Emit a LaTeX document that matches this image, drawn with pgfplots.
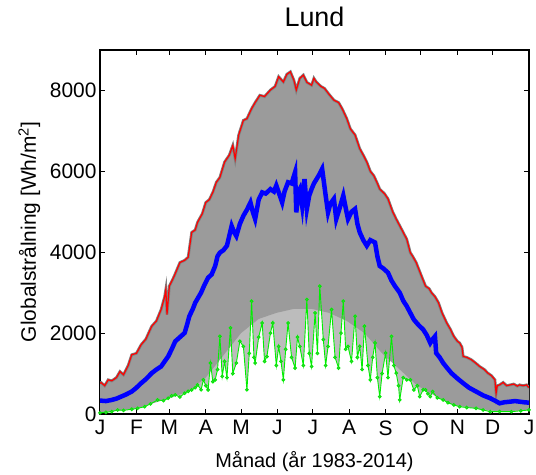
\documentclass[border=0pt]{standalone}
\usepackage{fontspec}
\setmainfont{Liberation Sans}
\usepackage{pgfplots}
\usepackage{pgfplotstable}
\pgfplotsset{compat=1.18}
\usepgfplotslibrary{fillbetween}
\definecolor{dotgray}{RGB}{128,128,128}
\definecolor{lightfill}{RGB}{188,188,188}
\definecolor{densefill}{RGB}{155,155,155}
\definecolor{mxred}{RGB}{255,0,0}
\definecolor{mnblue}{RGB}{0,0,255}
\definecolor{mingreen}{RGB}{0,240,0}

\pgfplotstableread{
d v
0 760
1 777
4 700
7 845
10 820
14 900
17 1050
20 970
24 1200
27 1465
31 1500
35 1714
39 1850
44 2170
48 2300
52 2583
55 2900
56 3080
57 2460
59 3160
63 3400
68 3745
72 3800
75 3875
78 4490
81 4550
83 4740
87 4950
90 5230
93 5300
96 5480
99 5730
102 5850
106 6230
110 6400
113 6640
115 6310
118 6900
122 7260
125 7300
129 7550
132 7700
136 7880
140 7850
145 8010
149 8100
152 8340
156 8210
159 8400
162 8460
165 8250
167 8010
170 8300
173 8380
176 8200
180 8130
182 8300
184 8210
188 8100
191 8050
195 7900
199 7760
203 7700
206 7550
210 7300
213 7050
217 6900
221 6560
224 6400
227 6230
230 6000
233 5890
236 5700
238 5560
242 5450
245 5320
249 5000
252 4820
256 4600
261 4320
264 3990
266 3900
269 3745
273 3450
277 3160
280 3100
282 3000
285 2900
288 2750
291 2500
295 2250
298 2100
301 1920
304 1800
306 1756
308 1650
309 1423
312 1400
316 1341
320 1250
323 1175
327 1100
330 1010
333 950
336 845
337 514
338 700
340 720
343 780
346 700
349 720
352 740
355 690
357 720
360 700
363 720
365 650
}\maxdata

\pgfplotstableread{
d v
0 330
1 330
5 320
10 348
14 380
18 430
22 480
27 555
31 650
35 762
39 860
44 1010
48 1100
52 1175
55 1300
58 1423
61 1600
64 1796
68 1900
72 2004
74 2200
76 2417
79 2600
81 2750
84 2900
86 3000
89 3200
92 3370
95 3450
98 3660
100 3900
102 3990
105 4050
108 4160
112 4650
114 4500
116 4400
119 4700
122 4900
125 5050
128 5230
130 5000
132 4820
135 5300
138 5480
141 5450
145 5560
148 5500
150 5650
153 5400
155 5230
157 5500
160 5730
163 5700
166 5980
167 4985
169 5500
170 5560
172 5150
174 5810
176 5070
178 5400
180 5560
182 5700
186 5890
189 6060
192 5400
194 4985
196 5200
199 5320
201 4820
204 5100
207 5400
209 5100
211 4820
214 5000
217 5070
219 4700
221 4490
224 4300
227 4160
230 4300
234 4240
236 3900
238 3660
241 3600
245 3495
248 3300
251 3160
255 3000
258 2800
261 2665
264 2500
267 2335
271 2200
275 2087
278 1950
281 1756
283 1850
285 1920
286 1508
289 1400
292 1260
295 1150
299 1010
304 880
309 762
314 650
320 555
326 460
332 390
336 330
340 265
344 290
349 305
353 320
357 305
361 290
365 280
}\meandata

\pgfplotstableread{
d v
0 30
5 40
10 60
15 100
20 90
27 117
32 140
38 181
43 250
49 348
54 330
58 390
61 450
64 472
68 420
72 514
75 560
78 596
81 650
83 720
86 600
88 845
90 700
92 596
94 1260
96 800
98 845
100 1100
102 1920
104 930
106 1300
108 900
111 2130
113 1000
116 1260
119 1800
122 1670
125 600
127 1500
129 2790
131 1400
132 1260
135 1900
138 2250
140 1300
142 1420
145 2000
147 2250
150 1200
152 1670
154 1300
156 845
158 1600
160 2250
163 1400
166 1135
168 1900
170 1670
173 1200
176 2830
178 1500
180 1175
183 2500
185 1500
187 3160
190 1840
192 1200
194 1670
197 2583
200 1400
203 1135
205 2000
207 2790
209 1600
211 1670
214 1300
217 2417
219 1400
221 1670
223 1100
225 2170
228 1200
230 845
232 1400
234 1756
236 900
238 430
240 1000
243 1508
245 900
248 1920
250 1200
252 1010
254 700
255 348
258 900
261 845
264 845
267 596
270 700
272 430
275 600
277 596
279 500
281 430
283 555
287 400
292 348
296 280
301 224
306 181
312 160
320 140
326 100
332 57
340 60
350 57
358 80
365 100
}\mindata

\pgfplotstableread{
d v
0 30
31 140
59 390
75 560
90 900
105 1450
120 2000
135 2350
150 2500
165 2600
180 2600
195 2500
210 2300
225 2000
240 1500
255 1100
270 700
285 450
300 230
320 140
340 60
365 100
}\densedata

\begin{document}
\begin{tikzpicture}
\begin{axis}[
  at={(0,0)}, anchor=south west,
  width=429bp, height=364bp, scale only axis,
  xmin=0, xmax=365, ymin=0, ymax=9000,
  xtick={0,31,59,90,120,151,181,212,243,273,304,334,365},
  xticklabels={J,F,M,A,M,J,J,A,S,O,N,D,J},
  ytick={0,2000,4000,6000,8000},
  scaled y ticks=false,
  /pgf/number format/1000 sep={},
  /pgf/number format/assume math mode=true,
  tick align=inside,
  xtick pos=both, ytick pos=both,
  xticklabel pos=lower, yticklabel pos=left,
  major tick length=5bp,
  axis line style={line width=1.3bp, black},
  tick style={line width=0.9bp, black},
  tick label style={font=\fontsize{21}{25}\selectfont},
  xticklabel style={yshift=-3bp},
  title={Lund},
  title style={font=\fontsize{27}{31}\selectfont, at={(axis description cs:0.5,1)}, anchor=base, yshift=18bp},
  xlabel={Månad (år 1983-2014)},
  xlabel style={font=\fontsize{20}{24}\selectfont, at={(axis description cs:0.5,0)}, anchor=base, yshift=-53bp},
  ylabel={Globalstrålning [Wh/m\textsuperscript{2}]},
  ylabel style={font=\fontsize{21}{25}\selectfont, at={(axis description cs:0,0.5)}, anchor=base, yshift=64bp},
]
\addplot[draw=none, name path=maxp] table[x=d, y=v] {\maxdata};
\addplot[draw=none, name path=minp] table[x=d, y=v] {\mindata};
\addplot[draw=none, name path=densep] table[x=d, y=v] {\densedata};
\addplot[lightfill, draw=none] fill between[of=maxp and minp];
\addplot[densefill, draw=none] fill between[of=maxp and densep];
\addplot[dotgray, line width=2.8bp] table[x=d, y=v] {\maxdata};
\addplot[mnblue, line width=4.5bp] table[x=d, y=v] {\meandata};
\addplot[mingreen, line width=0.9bp, mark=*, mark size=1.4bp, mark options={fill=dotgray, draw=none}] table[x=d, y=v] {\mindata};
\addplot[mxred, line width=1.2bp] table[x=d, y=v] {\maxdata};
\end{axis}
\pgfresetboundingbox
\path[use as bounding box] (-100bp,-61bp) rectangle (436bp,414bp);
\end{tikzpicture}
\end{document}
